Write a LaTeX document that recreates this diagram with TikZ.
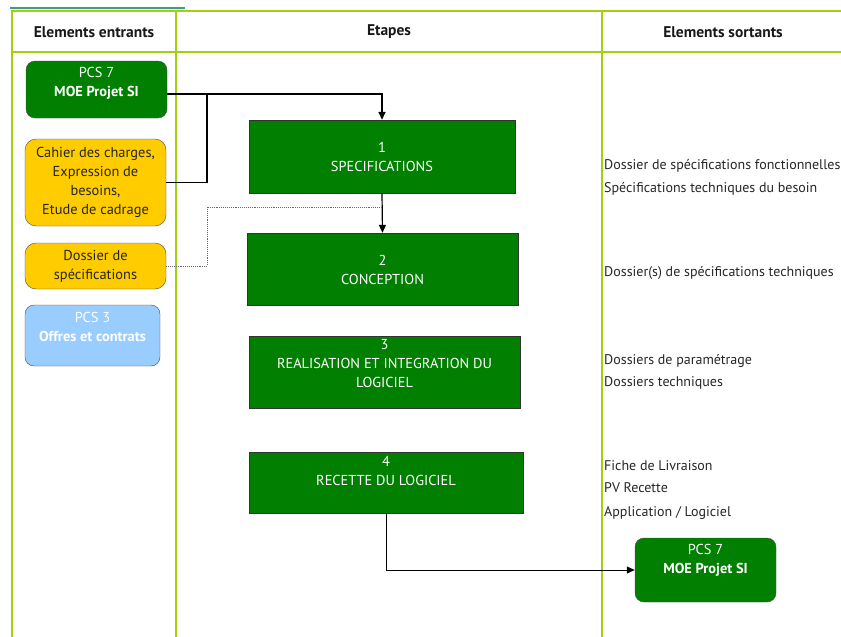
\documentclass[tikz,border=0pt]{standalone}
\usepackage{fontspec}
\setmainfont{PT Sans}
\usetikzlibrary{arrows.meta,positioning}
\definecolor{grid}{HTML}{A2CF0E}
\definecolor{tab}{HTML}{3E9C8C}
\definecolor{stepgreen}{HTML}{007F00}
\definecolor{inyellow}{HTML}{FFCC00}
\definecolor{inblue}{HTML}{99CCFF}

\begin{document}
\begin{tikzpicture}[
  x=1pt,y=-1pt,
  every node/.style={font=\fontsize{14.4}{19}\selectfont},
  stepbox/.style={draw=black!80,fill=stepgreen,rectangle,inner sep=0pt},
  steptext/.style={text=white,align=center},
  pcsbox/.style={draw=black!70,fill=stepgreen,rounded corners=9pt,text=white,align=center,inner sep=0pt},
  docbox/.style={draw=black!70,fill=inyellow,rounded corners=11pt,text=black!85,align=center,inner sep=0pt},
  outtext/.style={anchor=west,text=black!85,inner sep=0pt,font=\fontsize{14}{19}\selectfont},
  head/.style={font=\fontsize{15.5}{19}\selectfont\bfseries,text=black!90},
  flow/.style={-{Triangle[length=8pt,width=7pt]},line width=1.2pt},
]
  \useasboundingbox (0,0) rectangle (841,637);

  % table
  \draw[tab,line width=2pt] (10,8) -- (185,8);
  \draw[grid,line width=2.5pt] (841,11) -- (12,11) -- (12,637);
  \draw[grid,line width=2.5pt] (12,52) -- (841,52);
  \draw[grid,line width=2.5pt] (176,11) -- (176,637);
  \draw[grid,line width=1.5pt] (602,11) -- (602,637);
  \node[head] (hin) at (94,32) {Elements entrants};
  \node[head] (hstep) at (389,32) {Etapes};
  \node[head] (hout) at (723,32) {Elements sortants};

  % incoming elements
  \node[pcsbox,minimum width=141,minimum height=57] (moe) at (96.5,89.5) {};
  \node[text=white,align=center] (moetxt) at (96.5,83) {PCS 7\\\textbf{MOE Projet SI}};
  \node[docbox,minimum width=141,minimum height=87] (cahier) at (95.5,182.5)
    {Cahier des charges,\\Expression de\\besoins,\\Etude de cadrage};
  \node[docbox,minimum width=141,minimum height=46] (dossier) at (95.5,266)
    {Dossier de\\spécifications};
  \node[pcsbox,fill=inblue,minimum width=135,minimum height=61] (offres) at (92.5,335.5) {};
  \node[text=white,align=center] (offrestxt) at (92.5,326.5) {PCS 3\\\textbf{Offres et contrats}};

  % steps
  \node[stepbox,minimum width=266,minimum height=73] (spec) at (382,156.5) {};
  \node[steptext] (spectxt) at (382,156.5) {1\\SPECIFICATIONS};
  \node[stepbox,minimum width=271,minimum height=72] (conc) at (382.5,269) {};
  \node[steptext] (conctxt) at (382.5,270) {2\\CONCEPTION};
  \node[stepbox,minimum width=271,minimum height=72] (real) at (384.5,372) {};
  \node[steptext] (realtxt) at (384.5,364) {3\\REALISATION ET INTEGRATION DU\\LOGICIEL};
  \node[stepbox,minimum width=274,minimum height=61] (rec) at (386,482.5) {};
  \node[steptext] (rectxt) at (386,470.5) {4\\RECETTE DU LOGICIEL};

  % outgoing elements
  \node[outtext] (o1) at (604,166) {Dossier de spécifications fonctionnelles};
  \node[outtext] (o2) at (604,189) {Spécifications techniques du besoin};
  \node[outtext] (o3) at (604,273) {Dossier(s) de spécifications techniques};
  \node[outtext] (o4) at (604,361) {Dossiers de paramétrage};
  \node[outtext] (o5) at (604,383) {Dossiers techniques};
  \node[outtext] (o6) at (604,466) {Fiche de Livraison};
  \node[outtext] (o7) at (604,488) {PV Recette};
  \node[outtext] (o8) at (604,513) {Application / Logiciel};
  \node[pcsbox,minimum width=141,minimum height=64] (moeout) at (705.5,570) {};
  \node[text=white,align=center] (moeouttxt) at (705.5,560) {PCS 7\\\textbf{MOE Projet SI}};

  % connectors
  \coordinate (j1) at (207,94);
  \coordinate (j2) at (382,207);
  \draw[flow,line width=1.6pt] (moe.east |- j1) -- (spec.north |- j1) -- (spec.north);
  \draw[line width=1.1pt] (cahier.east) -| (j1);
  \draw[flow] (spec.south) -- (conc.north);
  \draw[densely dotted,black!60,line width=0.9pt] (dossier.east) -| (207,207) -- (j2);
  \draw[flow,line width=1pt] (rec.south) |- (moeout.west);
\end{tikzpicture}
\end{document}
